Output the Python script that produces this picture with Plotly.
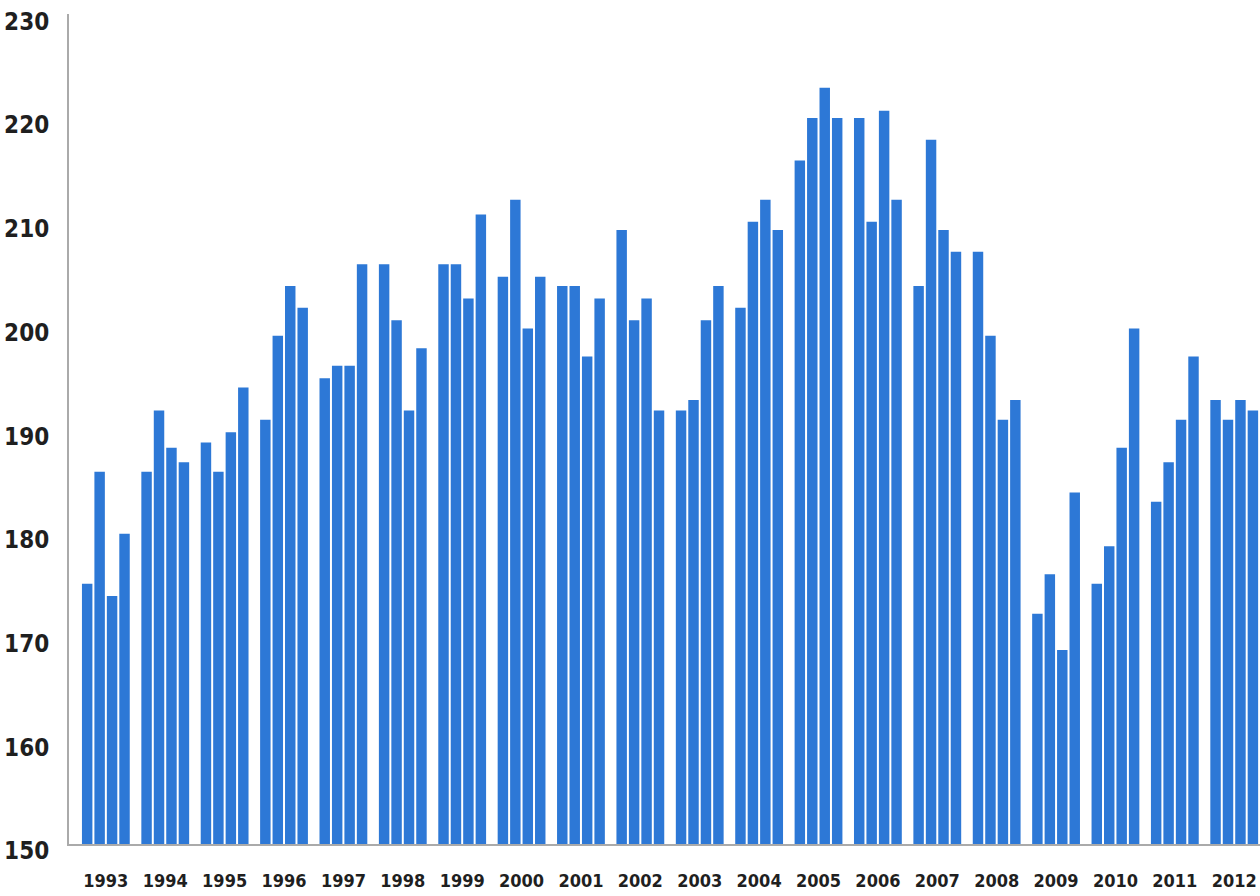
import plotly.graph_objects as go

years = [1993, 1994, 1995, 1996, 1997, 1998, 1999, 2000, 2001, 2002,
         2003, 2004, 2005, 2006, 2007, 2008, 2009, 2010, 2011, 2012]

q1 = [175.1, 185.9, 188.7, 190.9, 194.9, 205.9, 205.9, 204.7, 203.8, 209.2,
      191.8, 201.7, 215.9, 220.0, 203.8, 207.1, 172.2, 175.1, 183.0, 192.8]
q2 = [185.9, 191.8, 185.9, 199.0, 196.1, 200.5, 205.9, 212.1, 203.8, 200.5,
      192.8, 210.0, 220.0, 210.0, 217.9, 199.0, 176.0, 178.7, 186.8, 190.9]
q3 = [173.9, 188.2, 189.7, 203.8, 196.1, 191.8, 202.6, 199.7, 197.0, 202.6,
      200.5, 212.1, 222.9, 220.7, 209.2, 190.9, 168.7, 188.2, 190.9, 192.8]
q4 = [179.9, 186.8, 194.0, 201.7, 205.9, 197.8, 210.7, 204.7, 202.6, 191.8,
      203.8, 209.2, 220.0, 212.1, 207.1, 192.8, 183.9, 199.7, 197.0, 191.8]

y_ticks = [150, 160, 170, 180, 190, 200, 210, 220, 230]

YEAR_PITCH = 4.77  # spacing between year groups, in bar slots
BAR_COLOR = "#2d78d6"
FONT = "Liberation Sans Narrow, DejaVu Sans Condensed, Roboto Condensed, Arial Narrow, sans-serif"

xs, ys = [], []
for i, yr in enumerate(years):
    for q, series in enumerate([q1, q2, q3, q4]):
        xs.append(i * YEAR_PITCH + q)
        ys.append(series[i])

fig = go.Figure(go.Bar(
    x=xs, y=ys, width=0.84,
    marker=dict(color=BAR_COLOR, line=dict(width=0)),
    hoverinfo="y",
))

fig.update_layout(
    width=1260, height=896,
    margin=dict(l=69, r=0, t=14, b=52),
    paper_bgcolor="white", plot_bgcolor="white",
    showlegend=False,
    font=dict(family=FONT, color="#1f1f1f"),
)

fig.update_xaxes(
    range=[-1.46, 94.2],
    tickmode="array",
    tickvals=[i * YEAR_PITCH + 1.5 for i in range(len(years))],
    ticktext=[str(y) for y in years],
    tickfont=dict(family=FONT, size=18, color="#1f1f1f", weight="bold"),
    showgrid=False, zeroline=False,
    showline=True, linecolor="#aaaaaa", linewidth=2,
    ticks="", ticklabelstandoff=19,
    automargin=False,
)

fig.update_yaxes(
    range=[150, 230.02],
    tickmode="array",
    tickvals=y_ticks,
    ticktext=[str(v) for v in y_ticks],
    tickfont=dict(family=FONT, size=24, color="#1f1f1f", weight="bold"),
    showgrid=False, zeroline=False,
    showline=True, linecolor="#aaaaaa", linewidth=2,
    ticks="", ticklabelstandoff=13, ticklabelshift=7,
    automargin=False,
)

fig.write_html("out.html", config={"displayModeBar": False},
               post_script="document.body.style.margin='0';")
